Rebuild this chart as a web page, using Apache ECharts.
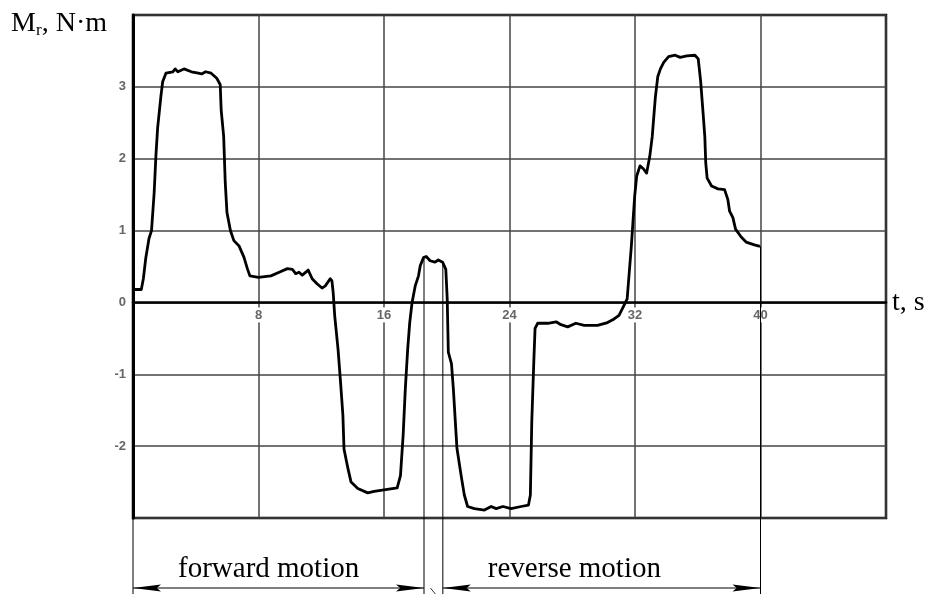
<!DOCTYPE html>
<html><head><meta charset="utf-8">
<script src="https://cdn.jsdelivr.net/npm/echarts@6/dist/echarts.min.js"></script>
<style>html,body{margin:0;padding:0;background:#fff}#c{width:926px;height:594px}</style>
</head><body><div id="c"></div>
<script>
// time, s
const timeValues = [
  0.05, 0.53, 0.66, 0.81, 1.02, 1.18, 1.35, 1.46, 1.57, 1.78, 1.89, 2.10, 2.54, 2.69, 2.86, 3.25, 3.72, 4.16, 4.37, 4.63,
  4.98, 5.34, 5.56, 5.62, 5.78, 5.88, 5.99, 6.21, 6.43, 6.75, 7.07, 7.29, 7.45, 8.00, 8.79, 9.32, 9.84, 10.16, 10.37, 10.58,
  10.79, 11.17, 11.42, 11.73, 12.05, 12.26, 12.57, 12.68, 12.76, 12.86, 13.07, 13.23, 13.38, 13.45, 13.70, 13.90, 14.33, 14.96, 15.37, 16.21,
  16.84, 17.05, 17.22, 17.36, 17.51, 17.64, 17.79, 17.99, 18.20, 18.31, 18.52, 18.69, 18.94, 19.25, 19.46, 19.74, 19.94, 20.03, 20.10, 20.30,
  20.42, 20.65, 20.91, 21.12, 21.33, 21.76, 22.40, 22.83, 23.15, 23.58, 24.10, 24.74, 25.21, 25.33, 25.42, 25.55, 25.63, 25.80, 26.44, 26.97,
  27.28, 27.71, 28.23, 28.76, 29.61, 30.25, 30.67, 30.98, 31.30, 31.50, 31.62, 31.77, 31.87, 31.98, 32.11, 32.32, 32.53, 32.74, 32.94, 33.10,
  33.20, 33.30, 33.45, 33.62, 33.83, 34.14, 34.56, 34.88, 35.30, 35.82, 36.03, 36.18, 36.31, 36.45, 36.51, 36.60, 36.88, 37.29, 37.71, 37.92,
  38.03, 38.24, 38.41, 38.77, 39.08, 39.61, 39.97
];
// M_r, N·m
const torqueValues = [
  0.18, 0.18, 0.33, 0.61, 0.89, 1.00, 1.53, 2.04, 2.43, 2.87, 3.07, 3.19, 3.21, 3.25, 3.21, 3.25, 3.21, 3.19, 3.18, 3.21,
  3.19, 3.12, 3.03, 2.68, 2.31, 1.67, 1.25, 1.00, 0.86, 0.79, 0.63, 0.47, 0.37, 0.35, 0.37, 0.42, 0.47, 0.46, 0.40, 0.42,
  0.38, 0.45, 0.33, 0.26, 0.20, 0.23, 0.33, 0.30, 0.14, -0.19, -0.65, -1.11, -1.57, -2.04, -2.31, -2.50, -2.59, -2.65, -2.63, -2.60,
  -2.58, -2.41, -1.85, -1.20, -0.65, -0.28, 0.00, 0.23, 0.37, 0.51, 0.625, 0.64, 0.58, 0.56, 0.59, 0.56, 0.46, 0.05, -0.69, -0.85,
  -1.20, -2.03, -2.40, -2.68, -2.84, -2.87, -2.89, -2.84, -2.87, -2.84, -2.87, -2.84, -2.82, -2.68, -1.66, -0.82, -0.36, -0.29, -0.29, -0.27,
  -0.31, -0.34, -0.29, -0.32, -0.32, -0.28, -0.23, -0.18, -0.04, 0.05, 0.38, 0.79, 1.12, 1.48, 1.76, 1.90, 1.86, 1.80, 2.03, 2.31,
  2.59, 2.86, 3.14, 3.25, 3.34, 3.42, 3.44, 3.41, 3.43, 3.44, 3.39, 3.09, 2.72, 2.31, 1.94, 1.73, 1.62, 1.58, 1.57, 1.43,
  1.27, 1.18, 1.02, 0.91, 0.84, 0.80, 0.78
];
const xTickLabels = [8, 16, 24, 32, 40];
const yTickLabels = [-2, -1, 0, 1, 2, 3];
const phaseBounds = [0, 18.55, 19.75, 40];   // forward: 0–18.55 s, reverse: 19.75–40 s
const phaseLabels = ['forward motion', 'reverse motion'];

const serif = '"Liberation Serif", "Times New Roman", serif';
const sans = '"Liberation Sans", Arial, sans-serif';
const chart = echarts.init(document.getElementById('c'), null, {renderer: 'canvas'});
const data = timeValues.map((t, i) => [t, torqueValues[i]]);

chart.setOption({
  backgroundColor: '#fff',
  animation: false,
  grid: {left: 133, right: 40, top: 15, bottom: 76, show: true, borderColor: '#000', borderWidth: 2.5,
         containLabel: false, outerBoundsMode: 'none'},
  xAxis: {
    type: 'value', min: 0, max: 48, interval: 8,
    axisLine: {show: true, onZero: false, lineStyle: {color: '#000', width: 2.5}},
    axisTick: {show: false},
    splitLine: {show: true, lineStyle: {color: '#444', width: 1.5}},
    axisLabel: {
      margin: 5,
      formatter: v => xTickLabels.includes(v) ? '{b|' + v + '}' : '',
      rich: {b: {color: '#666', fontSize: 13, fontWeight: 'bold', fontFamily: sans, backgroundColor: '#fff', padding: [1, 1, 1, 1]}}
    },
    name: 't, s', nameLocation: 'end', nameGap: 6,
    nameTextStyle: {fontFamily: serif, fontSize: 28, color: '#000', align: 'left', verticalAlign: 'middle'}
  },
  yAxis: {
    type: 'value', min: -3, max: 4, interval: 1,
    axisLine: {show: true, onZero: false, lineStyle: {color: '#000', width: 3}},
    axisTick: {show: false},
    splitLine: {show: true, lineStyle: {color: '#444', width: 1.5}},
    axisLabel: {
      margin: 7, color: '#666', fontSize: 13, fontWeight: 'bold', fontFamily: sans,
      formatter: v => yTickLabels.includes(v) ? String(v) : ''
    },
    name: '{m|M}{s|r}{m|, N·m}', nameLocation: 'end', nameGap: -9,
    nameTextStyle: {
      align: 'right', verticalAlign: 'middle', padding: [0, 26, 0, 0],
      rich: {
        m: {fontFamily: serif, fontSize: 28, color: '#000', lineHeight: 30},
        s: {fontFamily: serif, fontSize: 17, color: '#000', lineHeight: 10, verticalAlign: 'bottom'}
      }
    }
  },
  series: [{
    type: 'line', data: data, showSymbol: false, symbol: 'none', smooth: false, z: 5,
    lineStyle: {color: '#000', width: 2.8, join: 'round'}
  }]
});

// move the whole x axis (line, labels, name) up to the zero line
const zeroY = chart.convertToPixel({yAxisIndex: 0}, 0);
const bottomY = chart.convertToPixel({yAxisIndex: 0}, -3);
chart.setOption({xAxis: {offset: zeroY - bottomY}});

function curveAt(t) {
  if (t <= timeValues[0]) return torqueValues[0];
  for (let i = 1; i < timeValues.length; i++) {
    if (t <= timeValues[i]) {
      const f = (t - timeValues[i - 1]) / (timeValues[i] - timeValues[i - 1]);
      return torqueValues[i - 1] + f * (torqueValues[i] - torqueValues[i - 1]);
    }
  }
  return torqueValues[torqueValues.length - 1];
}

const H = chart.getHeight();
const arrowY = H - 6;
const g = [];
phaseBounds.forEach((t, i) => {
  const startV = (i === 0) ? -3 : curveAt(t);
  const p = chart.convertToPixel({gridIndex: 0}, [t, startV]);
  g.push({type: 'line', shape: {x1: p[0], y1: p[1], x2: p[0], y2: H}, style: {stroke: '#000', lineWidth: 1}, z: 10});
});
function arrowHead(xTip, dir) {
  const len = 28, hw = 3.5;
  return {type: 'polygon', shape: {points: [[xTip, arrowY], [xTip - dir * len, arrowY - hw], [xTip - dir * len * 0.85, arrowY], [xTip - dir * len, arrowY + hw]]},
          style: {fill: '#000'}, z: 10};
}
const spans = [[phaseBounds[0], phaseBounds[1]], [phaseBounds[2], phaseBounds[3]]];
spans.forEach((s, i) => {
  const a = chart.convertToPixel({gridIndex: 0}, [s[0], 0])[0];
  const b = chart.convertToPixel({gridIndex: 0}, [s[1], 0])[0];
  g.push({type: 'line', shape: {x1: a, y1: arrowY, x2: b, y2: arrowY}, style: {stroke: '#000', lineWidth: 1}, z: 10});
  g.push(arrowHead(a, -1));
  g.push(arrowHead(b, 1));
  g.push({type: 'text', x: a + 45, y: arrowY - 4,
          style: {text: phaseLabels[i], fontFamily: serif, fontSize: 29, fill: '#000', textAlign: 'left', textVerticalAlign: 'bottom'}, z: 10});
});
// small slanted tick between the two phases
const mid = chart.convertToPixel({gridIndex: 0}, [(phaseBounds[1] + phaseBounds[2]) / 2, 0])[0];
g.push({type: 'line', shape: {x1: mid - 3, y1: arrowY, x2: mid + 2, y2: H}, style: {stroke: '#000', lineWidth: 0.8}, z: 10});
chart.setOption({graphic: g});
</script></body></html>
